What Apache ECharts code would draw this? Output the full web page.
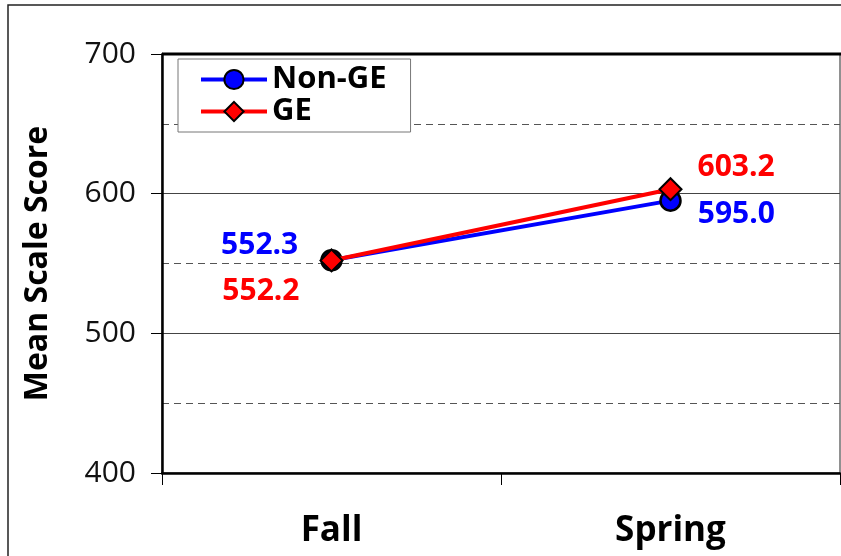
<!DOCTYPE html>
<html>
<head>
<meta charset="utf-8">
<script src="https://cdn.jsdelivr.net/npm/echarts@6/dist/echarts.min.js"></script>
<style>
  html, body { margin: 0; padding: 0; background: #fff; }
  #chart { width: 841px; height: 556px; }
</style>
</head>
<body>
<div id="chart"></div>
<script>
const categories = ['Fall', 'Spring'];
const nonGE = [552.3, 595.0];
const ge = [552.2, 603.2];
const yTicks = [400, 500, 600, 700];

// label placement per point (style only)
const nonGELabels = [
  { position: 'left', distance: 22, offset: [0, -15] },
  { position: 'right', distance: 16, offset: [0, 14] }
];
const geLabels = [
  { position: 'left', distance: 20, offset: [0, 31] },
  { position: 'right', distance: 15, offset: [0, -22] }
];

const font = 'Open Sans';

function mkData(vals, labels, color) {
  return vals.map((v, i) => ({
    value: v,
    label: Object.assign({
      show: true,
      color: color,
      fontFamily: font,
      fontWeight: 'bold',
      fontSize: 30,
      formatter: p => p.value.toFixed(1)
    }, labels[i])
  }));
}

const chart = echarts.init(document.getElementById('chart'));
chart.setOption({
  animation: false,
  graphic: [
    {
      type: 'rect',
      shape: { x: 8, y: 5, width: 900, height: 700 },
      style: { fill: 'none', stroke: '#222', lineWidth: 1.5 },
      z: -1
    },
    {
      type: 'line',
      shape: { x1: 162, y1: 54, x2: 841, y2: 54 },
      style: { stroke: '#000', lineWidth: 3 },
      z: 10
    }
  ],
  grid: {
    left: 162, right: 1, top: 54, bottom: 83,
    show: true, borderColor: '#222', borderWidth: 1
  },
  legend: {
    orient: 'vertical',
    left: 178, top: 59,
    padding: [5, 24, 5, 21],
    itemGap: 1,
    itemWidth: 66,
    itemHeight: 24,
    backgroundColor: '#fff',
    borderColor: '#777',
    borderWidth: 1,
    lineStyle: { width: 4 },
    textStyle: { fontFamily: font, fontWeight: 'bold', fontSize: 31, color: '#000' },
    data: ['Non-GE', 'GE']
  },
  xAxis: {
    type: 'category',
    data: categories,
    boundaryGap: true,
    axisLine: { lineStyle: { color: '#000', width: 2.5 } },
    axisTick: { show: true, length: 12, lineStyle: { color: '#000', width: 1 } },
    axisLabel: { fontFamily: font, fontWeight: 'bold', fontSize: 35, color: '#000', margin: 41 }
  },
  yAxis: {
    type: 'value',
    min: yTicks[0], max: yTicks[yTicks.length - 1], interval: 100,
    name: 'Mean Scale Score',
    nameLocation: 'middle',
    nameGap: 108,
    nameTextStyle: { fontFamily: font, fontWeight: 'bold', fontSize: 32, color: '#000' },
    axisLine: { show: true, lineStyle: { color: '#000', width: 2.5 } },
    axisTick: { show: true, length: 11, lineStyle: { color: '#000', width: 1 } },
    axisLabel: { fontFamily: font, fontSize: 30, color: '#111', margin: 26 },
    splitLine: { show: true, lineStyle: { color: '#444', width: 1 } },
    minorTick: { show: false, splitNumber: 2 },
    minorSplitLine: { show: true, lineStyle: { color: '#555', width: 1, type: [7, 5] } }
  },
  series: [
    {
      name: 'Non-GE',
      type: 'line',
      data: mkData(nonGE, nonGELabels, '#0000ff'),
      symbol: 'circle',
      symbolSize: 20,
      lineStyle: { color: '#0000ff', width: 4 },
      itemStyle: { color: '#0000ff', borderColor: '#000', borderWidth: 2.5 },
      z: 3
    },
    {
      name: 'GE',
      type: 'line',
      data: mkData(ge, geLabels, '#ff0000'),
      symbol: 'diamond',
      symbolSize: 22,
      lineStyle: { color: '#ff0000', width: 4 },
      itemStyle: { color: '#ff0000', borderColor: '#000', borderWidth: 2 },
      z: 4
    }
  ]
});
</script>
</body>
</html>
